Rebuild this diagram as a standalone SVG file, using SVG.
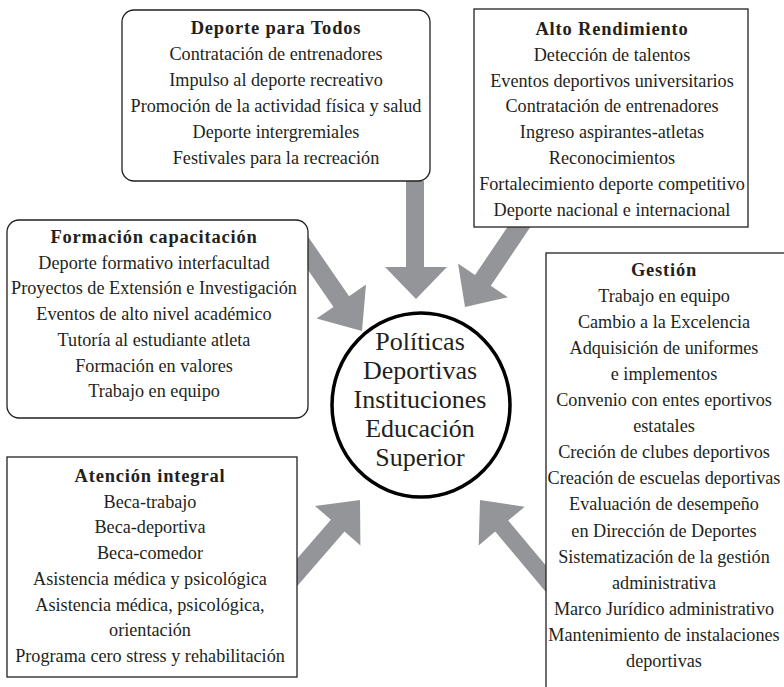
<svg xmlns="http://www.w3.org/2000/svg" width="784" height="687" viewBox="0 0 784 687">
<style>
.box{fill:#fff;stroke:#231f20;stroke-width:1.3}
.arrow{fill:#939598;stroke:none}
text{font-family:"Liberation Serif","Times New Roman",serif;fill:#231f20;text-anchor:middle}
.t{font-size:18.2px}
.h{font-size:18.5px;font-weight:bold;letter-spacing:0.8px}
.c{font-size:26px}
</style>
<rect width="784" height="687" fill="#fff"/>
<g id="connectors">
<polygon class="arrow" points="406,181 424,181 424,267 447,267 416,299 385,267 406,267"/>
<polygon class="arrow" points="538.4,215.1 490.8,285.7 507.8,297.2 465,307 458,263.6 475,275.1 522.6,204.5"/>
<polygon class="arrow" points="307.8,236.3 349.1,296.2 366,284.6 362,331 316.6,318.6 333.5,307 292.2,247.1"/>
<polygon class="arrow" points="294,589.7 344.5,531.6 360.4,545.4 360,500 315,506 330.9,519.8 280.4,577.9"/>
<polygon class="arrow" points="563.1,586 508.2,520.6 524.7,506.8 480,500 478.7,545.4 495.2,531.6 550.1,597"/>
</g>
<g id="deporte-para-todos">
<rect class="box" x="122" y="10" width="308" height="171" rx="12"/>
<text class="h" x="276" y="34">Deporte para Todos</text>
<text class="t" x="276" y="60">Contratación de entrenadores</text>
<text class="t" x="276" y="86">Impulso al deporte recreativo</text>
<text class="t" x="276" y="112">Promoción de la actividad física y salud</text>
<text class="t" x="276" y="138">Deporte intergremiales</text>
<text class="t" x="276" y="164">Festivales para la recreación</text>
</g>
<g id="alto-rendimiento">
<rect class="box" x="474" y="9" width="274" height="218"/>
<text class="h" x="612" y="35">Alto Rendimiento</text>
<text class="t" x="612" y="60.8">Detección de talentos</text>
<text class="t" x="612" y="86.6">Eventos deportivos universitarios</text>
<text class="t" x="612" y="112.4">Contratación de entrenadores</text>
<text class="t" x="612" y="138.2">Ingreso aspirantes-atletas</text>
<text class="t" x="612" y="164">Reconocimientos</text>
<text class="t" x="612" y="189.8">Fortalecimiento deporte competitivo</text>
<text class="t" x="612" y="215.6">Deporte nacional e internacional</text>
</g>
<g id="formacion-capacitacion">
<rect class="box" x="7" y="220" width="301" height="198" rx="12"/>
<text class="h" x="154" y="243">Formación capacitación</text>
<text class="t" x="154" y="268.7">Deporte formativo interfacultad</text>
<text class="t" x="154" y="294.4">Proyectos de Extensión e Investigación</text>
<text class="t" x="154" y="320.1">Eventos de alto nivel académico</text>
<text class="t" x="154" y="345.8">Tutoría al estudiante atleta</text>
<text class="t" x="154" y="371.5">Formación en valores</text>
<text class="t" x="154" y="397.2">Trabajo en equipo</text>
</g>
<g id="atencion-integral">
<rect class="box" x="7" y="457" width="290" height="220"/>
<text class="h" x="150" y="482">Atención integral</text>
<text class="t" x="150" y="507.7">Beca-trabajo</text>
<text class="t" x="150" y="533.4">Beca-deportiva</text>
<text class="t" x="150" y="559.1">Beca-comedor</text>
<text class="t" x="150" y="584.8">Asistencia médica y psicológica</text>
<text class="t" x="150" y="610.5">Asistencia médica, psicológica,</text>
<text class="t" x="150" y="636.2">orientación</text>
<text class="t" x="150" y="661.9">Programa cero stress y rehabilitación</text>
</g>
<g id="gestion">
<rect class="box" x="546" y="253" width="250" height="450"/>
<text class="h" x="664" y="275.5">Gestión</text>
<text class="t" x="664" y="301.6">Trabajo en equipo</text>
<text class="t" x="664" y="327.7">Cambio a la Excelencia</text>
<text class="t" x="664" y="353.8">Adquisición de uniformes</text>
<text class="t" x="664" y="379.9">e implementos</text>
<text class="t" x="664" y="406">Convenio con entes eportivos</text>
<text class="t" x="664" y="432.1">estatales</text>
<text class="t" x="664" y="458.2">Creción de clubes deportivos</text>
<text class="t" x="664" y="484.3">Creación de escuelas deportivas</text>
<text class="t" x="664" y="510.4">Evaluación de desempeño</text>
<text class="t" x="664" y="536.5">en Dirección de Deportes</text>
<text class="t" x="664" y="562.6">Sistematización de la gestión</text>
<text class="t" x="664" y="588.7">administrativa</text>
<text class="t" x="664" y="614.8">Marco Jurídico administrativo</text>
<text class="t" x="664" y="640.9">Mantenimiento de instalaciones</text>
<text class="t" x="664" y="667">deportivas</text>
</g>
<g id="politicas-deportivas">
<ellipse cx="421" cy="405" rx="89" ry="92" fill="#fff" stroke="#000" stroke-width="3.5"/>
<text class="c" x="420" y="350">Políticas</text>
<text class="c" x="420" y="379">Deportivas</text>
<text class="c" x="420" y="408">Instituciones</text>
<text class="c" x="420" y="437">Educación</text>
<text class="c" x="420" y="466">Superior</text>
</g>
</svg>
